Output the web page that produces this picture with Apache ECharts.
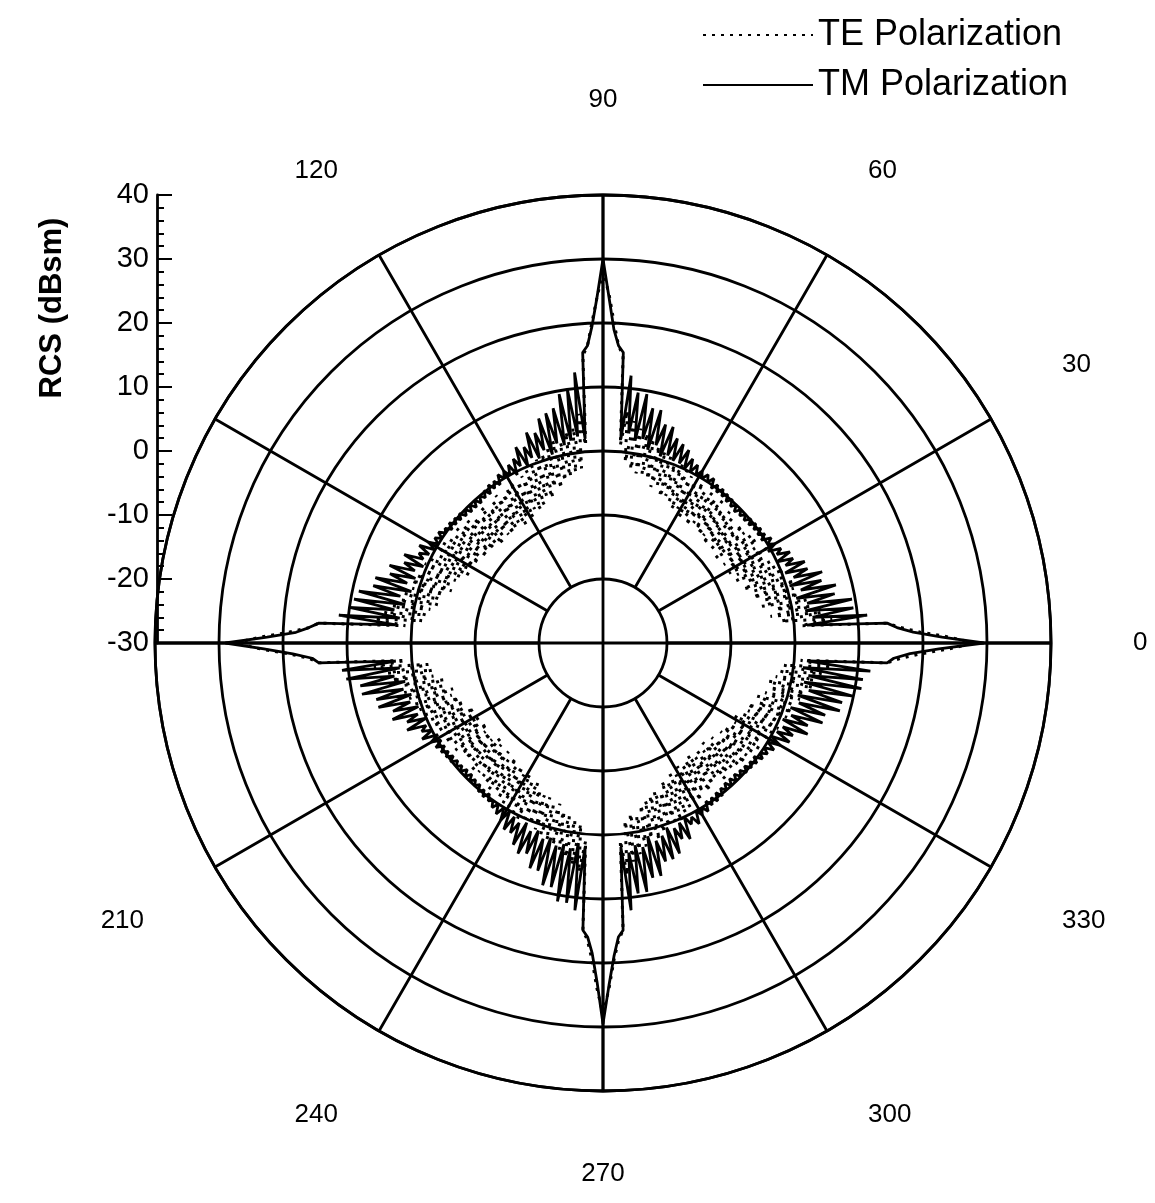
<!DOCTYPE html>
<html>
<head>
<meta charset="utf-8">
<script src="https://cdn.jsdelivr.net/npm/echarts@6/dist/echarts.min.js"></script>
<style>
  html, body { margin: 0; padding: 0; background: #fff; }
  #main { width: 1155px; height: 1203px; }
</style>
</head>
<body>
<div id="main"></div>
<script>
// sampling angles (deg), one per degree
var angles = [];
for (var a = 0; a <= 360; a++) angles.push(a);

// TM polarization, RCS in dBsm
var tm = [
  29.5, 23, 18.5, 16, 14.5, 2, 11.5, 3, 9.5, 2,
  9.5, 2.5, 7, 1, 7.5, 2, 5.5, 0.5, 6, 1.5,
  4, 0.5, 4, 1, 2.5, 0, 2.5, 0.5, 1.5, -0.5,
  1, 0, 1, -0.5, 0.5, -0.5, 0.5, -0.5, 0.3, -0.7,
  0.2, -0.8, 0, -0.8, 0, -1, 0, -0.8, 0.2, -0.7,
  0.3, -0.5, 0.5, -0.5, 0.5, -0.5, 1, 0, 1, 0,
  1, 0, 1.5, 0, 2, 0, 3, 0.5, 3.5, 0.5,
  4, 1, 5.5, 0.5, 5.5, 2, 7.5, 1, 7.5, 2.5,
  9.5, 2, 9.5, 3, 12, 2, 15.5, 16.5, 19, 24,
  30, 24, 19.5, 16.5, 15.5, 2, 12.5, 2.5, 10, 2,
  9.5, 1.5, 7.5, 2, 7, 0.5, 6.5, 1.5, 4.5, 0.5,
  5, 1, 3, 0, 3.5, 0.5, 2, -0.5, 1.5, 0,
  1, 0, 1, -0.5, 0.5, -0.5, 0.5, -0.8, 0.2, -0.8,
  0, -1, 0, -1, 0, -1, 0, -0.8, 0.2, -0.6,
  0.3, -0.5, 0.5, -0.5, 0.5, 0, 1, 0, 1, 0,
  1.5, 0, 2.5, 0.5, 2, 1, 4, 0.5, 3.5, 1.5,
  5.5, 1, 5, 2, 7, 1, 7, 2.5, 9, 1.5,
  9.5, 3, 10, 2, 11.5, 2.5, 14.5, 16, 18, 22.5,
  29, 23, 18.5, 15.5, 14.5, 2.5, 11, 2, 10.5, 3,
  8.5, 1.5, 8.5, 2, 6.5, 1, 6.5, 1.5, 4.5, 0.5,
  5, 1, 3, 0, 3.5, 0.5, 1.5, 0, 2, -0.5,
  1, -0.5, 0.8, -0.5, 0.5, -0.5, 0.3, -0.7, 0.2, -0.8,
  0, -0.8, 0, -1, 0, -1, 0, -0.8, 0, -0.7,
  0.3, -0.5, 0.5, -0.5, 0.5, 0, 1, 0, 1.5, 0,
  2, 0, 3, 0.5, 3, 1, 4.5, 0.5, 5.5, 1.5,
  5, 1, 7, 2, 7, 1.5, 9, 2.5, 9, 2,
  11, 2.5, 11, 1.5, 12, 2, 15, 16, 18.5, 23,
  29.5, 23.5, 19, 16, 15, 2, 12, 3, 9.5, 2,
  9.5, 2.5, 7.5, 1, 7.5, 2, 5.5, 1.5, 5.5, 0.5,
  5, 1, 3, 0.5, 3.5, 0, 1.5, 0.5, 2, 0,
  1, 0, 1, -0.5, 0.5, -0.5, 0.5, -0.7, 0.3, -0.8,
  0, -1, 0, -1, 0, -1, 0, -0.8, 0.2, -0.7,
  0.3, -0.5, 0.5, -0.5, 0.8, 0, 1, 0, 1.5, 0,
  2, 0, 3, 0.5, 3, 1, 5, 0.5, 4.5, 1.5,
  6.5, 1, 6.5, 2, 8.5, 1.5, 8.5, 3, 10, 2,
  11, 2.5, 11, 1.5, 12, 2, 14.5, 15.5, 18, 22.5,
  29.5
];

// TE polarization, RCS in dBsm
var te = [
  28, 24, 19.5, 16.5, 14.5, 1, 6, -2, 4.5, -3.5,
  3, -2.5, 2.5, -4.5, 1.5, -4, 1, -5.5, 1.5, -5,
  0, -6.5, 0.5, -5.5, -0.5, -7, -1, -6.5, -1.5, -7.5,
  -0.5, -7, -2, -7.5, -1, -6.5, -1.5, -8, -2, -7,
  -1.5, -7.5, -2.5, -7, -2, -8, -1.5, -7, -2, -7.5,
  -1, -7, -1.5, -6.5, -1, -7.5, -1.5, -6.5, -0.5, -7,
  -1, -6, -0.5, -6.5, 0, -5.5, 0.5, -5, 0, -5.5,
  1, -4, 1.5, -4.5, 2, -3.5, 2.5, -3, 3.5, -3,
  4, -2.5, 5, -1.5, 6.5, 1, 15, 16.5, 20, 24.5,
  28, 24, 20, 16.5, 15, 1, 6, -2.5, 4, -3,
  3.5, -3.5, 2, -4, 2.5, -5, 1.5, -4.5, 1, -6,
  0.5, -5.5, 0, -6.5, -0.5, -7, -1, -6.5, -1.5, -7.5,
  -1, -7, -1.5, -8, -2, -7, -1.5, -7.5, -2, -8,
  -2.5, -7.5, -1.5, -7, -2.5, -8, -2, -7, -1.5, -7.5,
  -1.5, -7, -1, -7.5, -1.5, -6.5, -1, -7, -0.5, -6.5,
  -0.5, -6, -1, -6.5, 0, -5.5, 0.5, -5, 0, -4.5,
  1, -5, 1.5, -4, 1, -3.5, 2, -3.5, 2.5, -2.5,
  3.5, -2, 4.5, -1.5, 6, 1, 14.5, 16, 19, 23.5,
  27.5, 23.5, 19, 16, 14.5, 1, 6, -2.5, 4, -3,
  3.5, -3, 2, -4.5, 2, -4, 1.5, -5.5, 1, -5,
  0.5, -6, 0, -6.5, -0.5, -6, -0.5, -7.5, -1, -7,
  -1.5, -7.5, -1, -7, -2, -8, -1.5, -7, -2, -7.5,
  -2, -7, -2.5, -8, -1.5, -7.5, -2, -7, -2, -7.5,
  -1.5, -6.5, -1, -7.5, -1.5, -6.5, -1, -7, -0.5, -6,
  -0.5, -6.5, 0, -5.5, 0.5, -6, 0, -5, 0.5, -4.5,
  1, -4.5, 1.5, -3.5, 2, -4, 2.5, -3, 3, -2.5,
  4, -2, 5, -1.5, 6, 1, 15, 16.5, 19.5, 24,
  28, 24, 19.5, 16.5, 15, 1, 6.5, -2, 4.5, -3,
  3.5, -2.5, 2.5, -4, 1.5, -4.5, 2, -5, 1, -5.5,
  0.5, -5, 0, -6.5, 0.5, -6, -0.5, -7, -1, -6.5,
  -1.5, -7.5, -1, -7, -2, -7.5, -1.5, -8, -2, -7,
  -2.5, -7.5, -1.5, -7, -2, -8, -2, -7, -1.5, -7.5,
  -1, -6.5, -1.5, -7, -1, -7, -0.5, -6.5, -1, -6,
  -0.5, -6.5, 0, -5.5, 0.5, -5, 0, -5.5, 1, -4,
  1.5, -4.5, 1, -3.5, 2, -3, 2.5, -3.5, 3.5, -2.5,
  3.5, -2, 4.5, -1.5, 6, 1, 14.5, 16.5, 19.5, 24,
  28
];

var hiddenAngleLabels = [150, 180, 360];
var font = 'Liberation Sans';
var ink = '#000';
var cx = 603, cy = 643, R = 448;

var chart = echarts.init(document.getElementById('main'));

var gridLine = { color: ink, width: 2.8 };

var option = {
    animation: false,
    backgroundColor: '#fff',
    legend: {
        data: ['TE Polarization', 'TM Polarization'],
        orient: 'vertical',
        left: 697,
        top: 12,
        itemWidth: 110,
        itemHeight: 14,
        itemGap: 14,
        itemStyle: { opacity: 0 },
        lineStyle: { width: 2 },
        textStyle: { fontFamily: font, fontSize: 36, color: ink }
    },
    graphic: [{
        type: 'text',
        x: 52,
        y: 308,
        rotation: Math.PI / 2,
        style: {
            text: 'RCS (dBsm)',
            font: 'bold 31px "Liberation Sans"',
            fill: ink,
            align: 'center',
            verticalAlign: 'middle'
        }
    }],
    grid: { left: cx - R + 2, top: cy - R, width: 10, height: R },
    xAxis: { type: 'value', show: false },
    yAxis: {
        type: 'value',
        min: -30,
        max: 40,
        interval: 10,
        axisLine: { show: true, lineStyle: gridLine },
        axisTick: { show: true, inside: true, length: 15, lineStyle: { color: ink, width: 2 } },
        minorTick: { show: true, splitNumber: 5, length: 7, lineStyle: { color: ink, width: 2 } },
        axisLabel: { fontFamily: font, fontSize: 29, color: ink, margin: 8 },
        splitLine: { show: false }
    },
    polar: [
        { center: [cx, cy], radius: R },
        { center: [cx, cy], radius: [64, R] }
    ],
    angleAxis: [{
        polarIndex: 0,
        type: 'value',
        min: 0,
        max: 360,
        interval: 90,
        startAngle: 0,
        clockwise: false,
        axisLine: { show: true, lineStyle: gridLine },
        axisTick: { show: false },
        axisLabel: { show: false },
        splitLine: { show: true, lineStyle: gridLine }
    }, {
        polarIndex: 1,
        type: 'value',
        min: 0,
        max: 360,
        interval: 30,
        startAngle: 0,
        clockwise: false,
        axisLine: { show: false },
        axisTick: { show: false },
        axisLabel: {
            margin: 82,
            fontFamily: font,
            fontSize: 26,
            color: ink,
            formatter: function (v) {
                if (hiddenAngleLabels.indexOf(v) >= 0) return '';
                // the bottom label sits a little closer to the circle
                if (v === 270) return '{near|270}';
                return String(v);
            },
            rich: {
                near: { fontFamily: font, fontSize: 26, color: ink, lineHeight: 1 }
            }
        },
        splitLine: { show: true, lineStyle: gridLine }
    }],
    radiusAxis: [{
        polarIndex: 0,
        type: 'value',
        min: -30,
        max: 40,
        interval: 10,
        axisLine: { show: false },
        axisTick: { show: false },
        axisLabel: { show: false },
        splitLine: { show: true, lineStyle: gridLine }
    }, {
        polarIndex: 1,
        type: 'value',
        min: -20,
        max: 40,
        show: false
    }],
    series: [{
        name: 'TE Polarization',
        type: 'line',
        coordinateSystem: 'polar',
        polarIndex: 0,
        symbol: 'none',
        itemStyle: { color: ink },
        data: angles.map(function (a, i) { return [te[i], a]; }),
        lineStyle: { color: ink, width: 3, type: [3, 6] },
        z: 3
    }, {
        name: 'TM Polarization',
        type: 'line',
        coordinateSystem: 'polar',
        polarIndex: 0,
        symbol: 'none',
        itemStyle: { color: ink },
        data: angles.map(function (a, i) { return [tm[i], a]; }),
        lineStyle: { color: ink, width: 2.8 },
        z: 4
    }]
};

chart.setOption(option);
</script>
</body>
</html>
